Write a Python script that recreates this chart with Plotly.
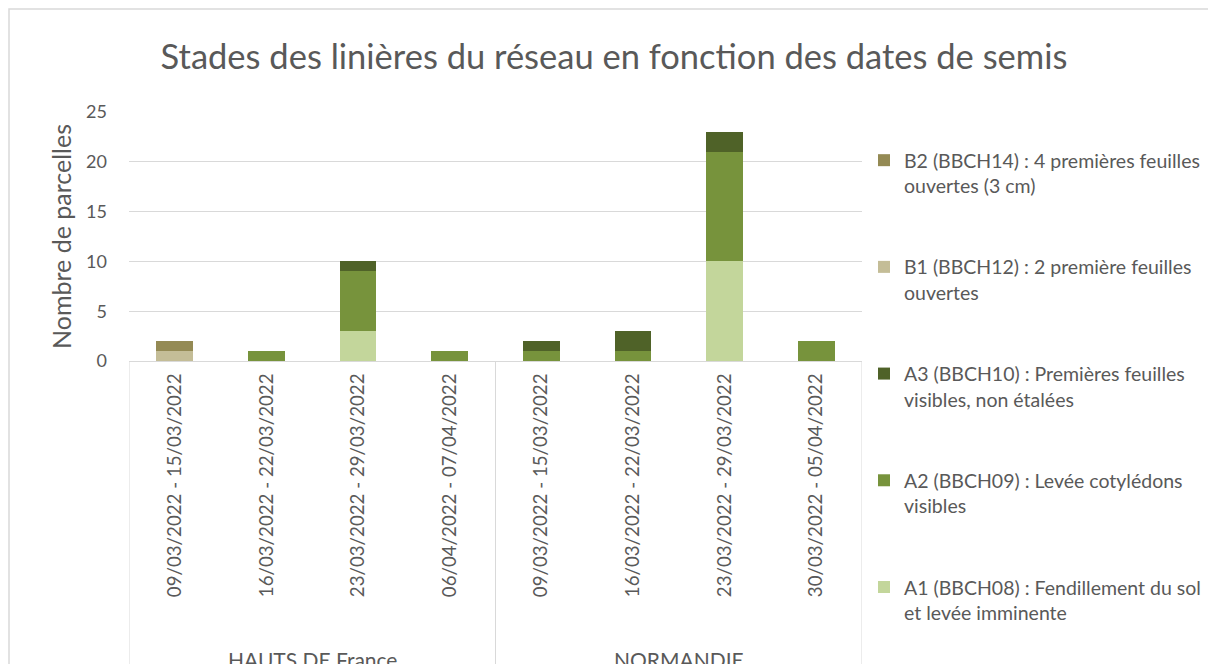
import plotly.graph_objects as go

title = "Stades des linières du réseau en fonction des dates de semis"
regions = ["HAUTS DE France", "NORMANDIE"]
periods = [
    "09/03/2022 - 15/03/2022", "16/03/2022 - 22/03/2022",
    "23/03/2022 - 29/03/2022", "06/04/2022 - 07/04/2022",
    "09/03/2022 - 15/03/2022", "16/03/2022 - 22/03/2022",
    "23/03/2022 - 29/03/2022", "30/03/2022 - 05/04/2022",
]
region_of = [0, 0, 0, 0, 1, 1, 1, 1]

a1 = [0, 0, 3, 0, 0, 0, 10, 0]
a2 = [0, 1, 6, 1, 1, 1, 11, 2]
a3 = [0, 0, 1, 0, 1, 2, 2, 0]
b1 = [1, 0, 0, 0, 0, 0, 0, 0]
b2 = [1, 0, 0, 0, 0, 0, 0, 0]

series = [
    ("A1 (BBCH08) : Fendillement du sol<br>et levée imminente", a1, "#C3D69B"),
    ("A2 (BBCH09) : Levée cotylédons<br>visibles", a2, "#77933C"),
    ("A3 (BBCH10) : Premières feuilles<br>visibles, non étalées", a3, "#4F6228"),
    ("B1 (BBCH12) : 2 première feuilles<br>ouvertes", b1, "#C4BD97"),
    ("B2 (BBCH14) : 4 premières feuilles<br>ouvertes (3 cm)", b2, "#948A54"),
]

FONT = "Lato"
GREY = "#595959"
LINE = "#D9D9D9"

xpos = list(range(len(periods)))

fig = go.Figure()
n = len(series)
for i, (name, vals, col) in enumerate(series):
    fig.add_trace(go.Bar(
        x=xpos, y=vals, name=name, marker_color=col,
        marker_line_width=0, legendgroup=f"g{i}", legendrank=n - i,
    ))

PW = 733  # plot width px
PH = 249  # plot height px
fig.update_layout(
    barmode="stack",
    bargap=0.6,
    width=1208, height=664,
    margin=dict(l=129, r=346, t=112, b=303, autoexpand=False),
    paper_bgcolor="white", plot_bgcolor="white",
    font=dict(family=FONT, color=GREY, size=16),
    title=dict(text=title, x=614 / 1208, xref="container", xanchor="center",
               y=1 - 57 / 664, yref="container", yanchor="middle",
               font=dict(size=34.5, color=GREY, family=FONT)),
    legend=dict(
        x=(864 - 129) / PW, xanchor="left", y=1 - (141 - 112) / PH, yanchor="top",
        traceorder="grouped", tracegroupgap=53,
        font=dict(size=19.5, color=GREY, family=FONT),
        valign="top", itemwidth=30, maxheight=660,
        bgcolor="rgba(0,0,0,0)",
    ),
    showlegend=True,
)

fig.update_xaxes(
    range=[-0.5, 7.5], tickvals=xpos, ticktext=periods, tickangle=-90,
    showgrid=False, zeroline=False, showline=True, linecolor=LINE, linewidth=1,
    ticks="", ticklabelstandoff=4, tickfont=dict(size=18.7, color=GREY),
)
fig.update_yaxes(
    range=[0, 25], dtick=5, showgrid=True, gridcolor=LINE, gridwidth=1,
    zeroline=False, showline=False, ticks="", ticklabelstandoff=21,
    tickfont=dict(size=18, color=GREY),
    title=dict(text="Nombre de parcelles", font=dict(size=25, color=GREY), standoff=7),
)

# group separators and labels
bottom = -(664 - 361) / PH
for xb in [-0.5, 3.5, 7.5]:
    fig.add_shape(type="line", xref="x", yref="paper", x0=xb, x1=xb,
                  y0=0, y1=bottom, line=dict(color=LINE, width=1))
for r, name in enumerate(regions):
    idx = [i for i, g in enumerate(region_of) if g == r]
    fig.add_annotation(x=sum(idx) / len(idx), y=-(645 - 361) / PH,
                       xref="x", yref="paper", text=name, showarrow=False,
                       yanchor="top", font=dict(size=21, color=GREY))

# chart border
fig.add_shape(type="rect", xref="paper", yref="paper",
              x0=-(129 - 9) / PW, x1=(1260 - 129) / PW,
              y0=bottom - 0.2, y1=1 + (112 - 9) / PH,
              line=dict(color=LINE, width=1.5), layer="below")

fig.write_html("out.html", config={"displayModeBar": False},
               post_script="document.body.style.margin='0';")
